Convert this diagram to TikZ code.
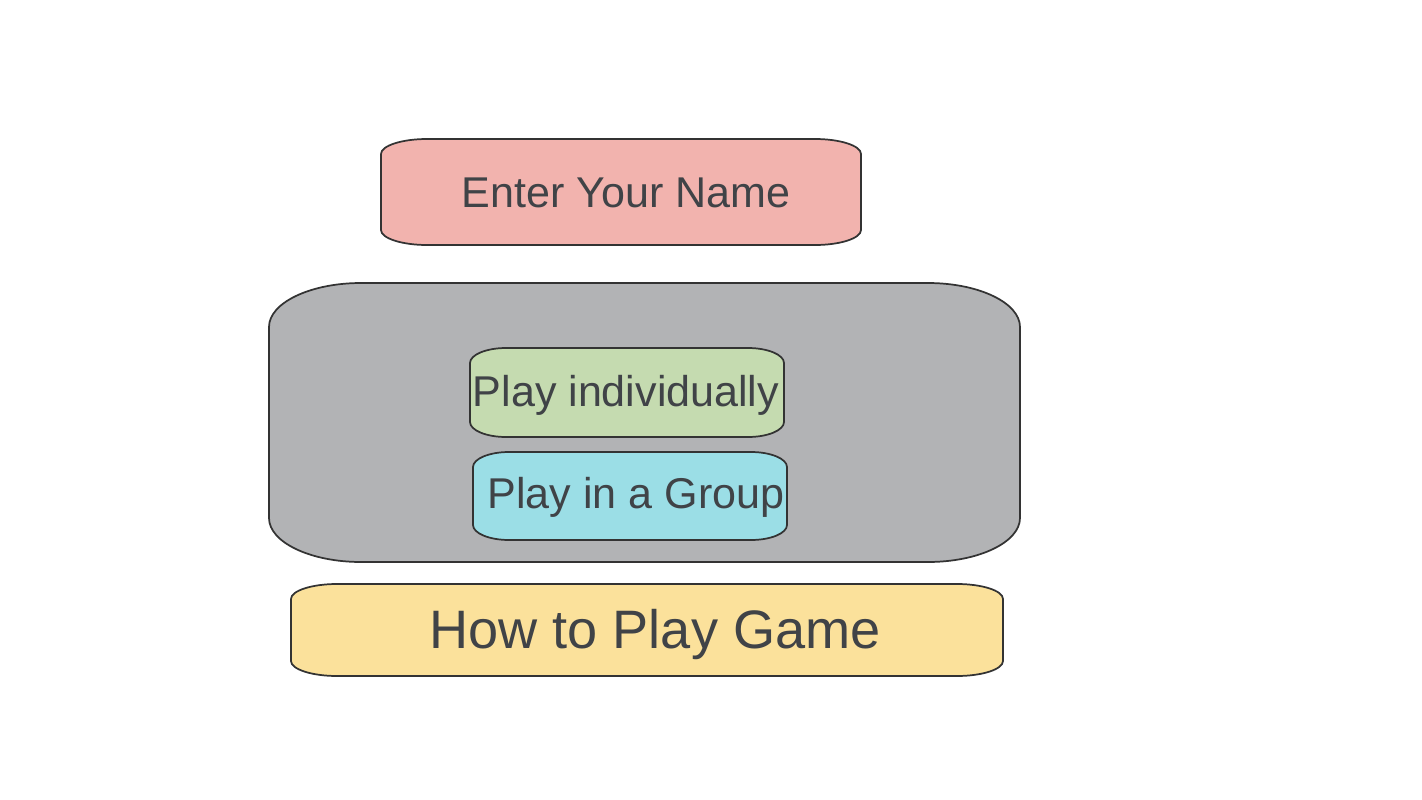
\documentclass[tikz,border=0pt]{standalone}
\usepackage{fontspec}
\setmainfont{Liberation Sans}
\definecolor{cpink}{HTML}{F2B3AE}
\definecolor{cgray}{HTML}{B2B3B5}
\definecolor{cgreen}{HTML}{C5DBB0}
\definecolor{ccyan}{HTML}{9BDEE6}
\definecolor{cyellow}{HTML}{FBE19B}
\definecolor{ctext}{HTML}{404347}
\definecolor{cline}{HTML}{333333}
\newcommand\rrbox[7]{%
  \filldraw[boxline, fill=#7] (#1,{#2+#6}) .. controls (#1,{#2+0.45*#6}) and ({#1+0.45*#5},#2) .. ({#1+#5},#2)
  -- ({#3-#5},#2) .. controls ({#3-0.45*#5},#2) and (#3,{#2+0.45*#6}) .. (#3,{#2+#6})
  -- (#3,{#4-#6}) .. controls (#3,{#4-0.45*#6}) and ({#3-0.45*#5},#4) .. ({#3-#5},#4)
  -- ({#1+#5},#4) .. controls ({#1+0.45*#5},#4) and (#1,{#4-0.45*#6}) .. (#1,{#4-#6}) -- cycle;}
\begin{document}
\begin{tikzpicture}[x=0.75pt,y=-0.75pt,
  boxline/.style={draw=cline, line width=1.3pt},
  label/.style={text=ctext, anchor=base, inner sep=0pt},
  normaltext/.style={label, font=\fontsize{32.3}{37}\selectfont},
  bigtext/.style={label, font=\fontsize{40.6}{47}\selectfont}]
\useasboundingbox (0,0) rectangle (1422,800);
\rrbox{381}{139}{861}{245}{46}{15}{cpink}
\node[normaltext] (name) at (626,207) {Enter Your Name};
\rrbox{269}{283}{1020}{562}{92}{44}{cgray}
\rrbox{470}{348}{784}{437}{36}{15}{cgreen}
\node[normaltext] (indiv) at (626,406) {Play individually};
\rrbox{473}{452}{787}{540}{36}{15}{ccyan}
\node[normaltext] (group) at (636,508) {Play in a Group};
\rrbox{291}{584}{1003}{676}{46}{15}{cyellow}
\node[bigtext] (how) at (655,648) {How to Play Game};
\end{tikzpicture}
\end{document}
